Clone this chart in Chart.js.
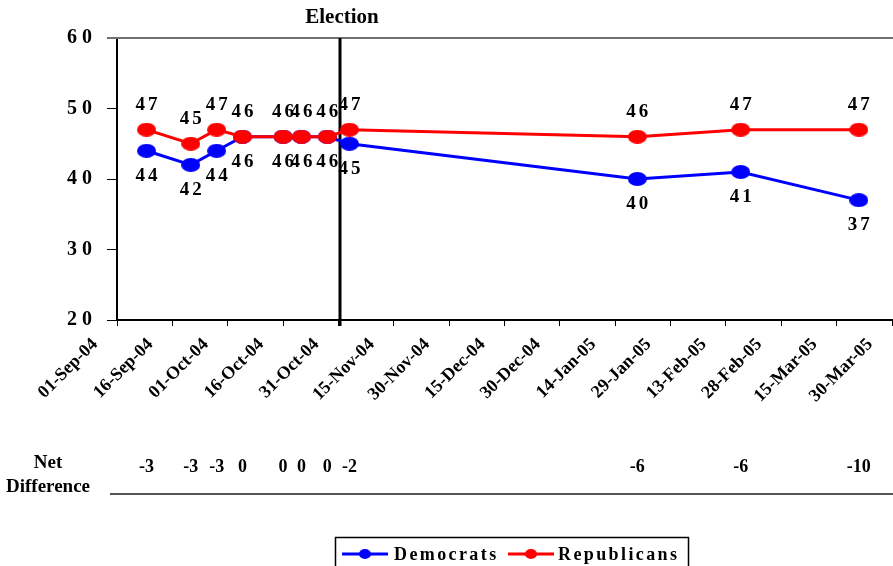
<!DOCTYPE html>
<html><head><meta charset="utf-8">
<script src="https://cdn.jsdelivr.net/npm/chart.js@4"></script>
<style>html,body{margin:0;padding:0;background:#fff;}#wrap{width:893px;height:566px;position:relative;}</style>
</head><body><div id="wrap"><canvas id="c" width="893" height="566"></canvas></div>
<script>
// ---- data ----
const startDate = '2004-09-01';
const pollDates = ['2004-09-09','2004-09-21','2004-09-28','2004-10-05','2004-10-16','2004-10-21','2004-10-28','2004-11-03','2005-01-20','2005-02-17','2005-03-21'];
const democrats   = [44, 42, 44, 46, 46, 46, 46, 45, 40, 41, 37];
const republicans = [47, 45, 47, 46, 46, 46, 46, 47, 46, 47, 47];
const netDifference = [-3, -3, -3, 0, 0, 0, 0, -2, -6, -6, -10];
const xTickLabels = ['01-Sep-04','16-Sep-04','01-Oct-04','16-Oct-04','31-Oct-04','15-Nov-04','30-Nov-04','15-Dec-04','30-Dec-04','14-Jan-05','29-Jan-05','13-Feb-05','28-Feb-05','15-Mar-05','30-Mar-05'];
const yTicks = [20, 30, 40, 50, 60];
const electionMark = '2004-10-31T12:00:00Z';
const electionLabel = 'Election';
const seriesNames = ['Democrats', 'Republicans'];
const seriesColors = ['#0000FF', '#FF0000'];

// ---- helpers ----
const DAY = 86400000;
const t0 = Date.parse(startDate + 'T00:00:00Z');
const toDay = s => (Date.parse(s.length === 10 ? s + 'T00:00:00Z' : s) - t0) / DAY;
const MON = {Jan:0,Feb:1,Mar:2,Apr:3,May:4,Jun:5,Jul:6,Aug:7,Sep:8,Oct:9,Nov:10,Dec:11};
const labelToDay = l => { const [d,m,y] = l.split('-'); return (Date.UTC(2000 + +y, MON[m], +d) - t0) / DAY; };
const tickDays = xTickLabels.map(labelToDay);
const pollDays = pollDates.map(toDay);
const FONT = "'Liberation Serif', 'Times New Roman', serif";
const noPad = s => { s.getPadding = () => ({left: 0, top: 0, right: 0, bottom: 0}); };

function ellipseMarker(color, w, h) {
  const c = document.createElement('canvas');
  c.width = w; c.height = h;
  const g = c.getContext('2d');
  g.fillStyle = color;
  g.beginPath();
  g.ellipse(w/2, h/2, w/2, h/2, 0, 0, Math.PI*2);
  g.fill();
  return c;
}

const overlay = {
  id: 'overlay',
  beforeDatasetsDraw(chart) {
    const ctx = chart.ctx, xs = chart.scales.x, a = chart.chartArea;
    ctx.save();
    ctx.strokeStyle = '#707070'; ctx.lineWidth = 2;
    ctx.beginPath(); ctx.moveTo(107, a.top); ctx.lineTo(893, a.top); ctx.stroke();
    const ex = Math.round(xs.getPixelForValue(toDay(electionMark)));
    ctx.strokeStyle = '#000'; ctx.lineWidth = 3;
    ctx.beginPath(); ctx.moveTo(ex, a.top); ctx.lineTo(ex, a.bottom + 6); ctx.stroke();
    ctx.fillStyle = '#000';
    ctx.font = 'bold 21px ' + FONT;
    ctx.textAlign = 'center'; ctx.textBaseline = 'middle';
    ctx.fillText(electionLabel, ex + 2, 18);
    ctx.restore();
  },
  afterDatasetsDraw(chart) {
    const ctx = chart.ctx, xs = chart.scales.x, ys = chart.scales.y;
    ctx.save();
    ctx.fillStyle = '#000';
    ctx.textAlign = 'center'; ctx.textBaseline = 'middle';
    ctx.font = 'bold 19px ' + FONT;
    ctx.letterSpacing = '3px';
    pollDays.forEach((d, i) => {
      const x = xs.getPixelForValue(d) + 1.5;
      ctx.fillText(String(republicans[i]), x, ys.getPixelForValue(republicans[i]) - 25);
      ctx.fillText(String(democrats[i]), x, ys.getPixelForValue(democrats[i]) + 25);
    });
    ctx.letterSpacing = '0px';
    ctx.font = 'bold 19px ' + FONT;
    ctx.fillText('Net', 48, 463);
    ctx.fillText('Difference', 48, 487);
    ctx.font = 'bold 18px ' + FONT;
    pollDays.forEach((d, i) => {
      ctx.fillText(String(netDifference[i]), xs.getPixelForValue(d), 467);
    });
    ctx.strokeStyle = '#555'; ctx.lineWidth = 2;
    ctx.beginPath(); ctx.moveTo(110, 494); ctx.lineTo(893, 494); ctx.stroke();
    // legend
    ctx.strokeStyle = '#000'; ctx.lineWidth = 1.5;
    ctx.strokeRect(335.5, 537.5, 353, 40);
    const items = [{x: 342, tx: 394}, {x: 508, tx: 558}];
    ctx.textAlign = 'left';
    ctx.font = 'bold 18px ' + FONT;
    ctx.letterSpacing = '2.4px';
    items.forEach((it, i) => {
      ctx.strokeStyle = seriesColors[i]; ctx.lineWidth = 3;
      ctx.beginPath(); ctx.moveTo(it.x, 554); ctx.lineTo(it.x + 46, 554); ctx.stroke();
      ctx.fillStyle = seriesColors[i];
      ctx.beginPath(); ctx.ellipse(it.x + 23, 554, 6, 5, 0, 0, Math.PI*2); ctx.fill();
      ctx.fillStyle = '#000';
      ctx.fillText(seriesNames[i], it.tx, 555);
    });
    ctx.letterSpacing = '0px';
    ctx.restore();
  }
};

new Chart(document.getElementById('c'), {
  type: 'line',
  data: {
    datasets: [
      {
        label: seriesNames[0],
        data: pollDays.map((d, i) => ({x: d, y: democrats[i]})),
        borderColor: seriesColors[0], backgroundColor: seriesColors[0],
        borderWidth: 3, pointStyle: ellipseMarker(seriesColors[0], 19, 14),
        pointRadius: 9, order: 1, tension: 0, clip: false
      },
      {
        label: seriesNames[1],
        data: pollDays.map((d, i) => ({x: d, y: republicans[i]})),
        borderColor: seriesColors[1], backgroundColor: seriesColors[1],
        borderWidth: 3, pointStyle: ellipseMarker(seriesColors[1], 19, 14),
        pointRadius: 9, order: 0, tension: 0, clip: false
      }
    ]
  },
  options: {
    responsive: false, animation: false, devicePixelRatio: 1,
    layout: {autoPadding: false, padding: {top: 38, right: 1, left: 0, bottom: 0}},
    plugins: {legend: {display: false}, tooltip: {enabled: false}},
    scales: {
      x: {
        type: 'linear', min: tickDays[0], max: tickDays[tickDays.length - 1],
        afterBuildTicks: s => { s.ticks = tickDays.map(v => ({value: v})); },
        ticks: {
          autoSkip: false, minRotation: 45, maxRotation: 45,
          callback: (v, i) => xTickLabels[i],
          font: {family: FONT, size: 18, weight: 'bold'}, color: '#000',
          labelOffset: -22, padding: 8
        },
        grid: {drawOnChartArea: false, drawTicks: true, tickLength: 6, color: '#000', lineWidth: 1},
        border: {display: true, color: '#000', width: 2},
        afterFit: s => { s.height = 566 - 320; noPad(s); }
      },
      y: {
        min: 20, max: 60,
        afterBuildTicks: s => { s.ticks = yTicks.map(v => ({value: v})); },
        ticks: {
          callback: v => String(v).split('').join(' '),
          font: {family: FONT, size: 20, weight: 'bold'}, color: '#000', padding: 15
        },
        grid: {drawOnChartArea: false, drawTicks: true, tickLength: 10, color: '#000', lineWidth: 1},
        border: {display: true, color: '#000', width: 2},
        afterFit: s => { s.width = 117; noPad(s); }
      }
    }
  },
  plugins: [overlay]
});
</script>
</body></html>
